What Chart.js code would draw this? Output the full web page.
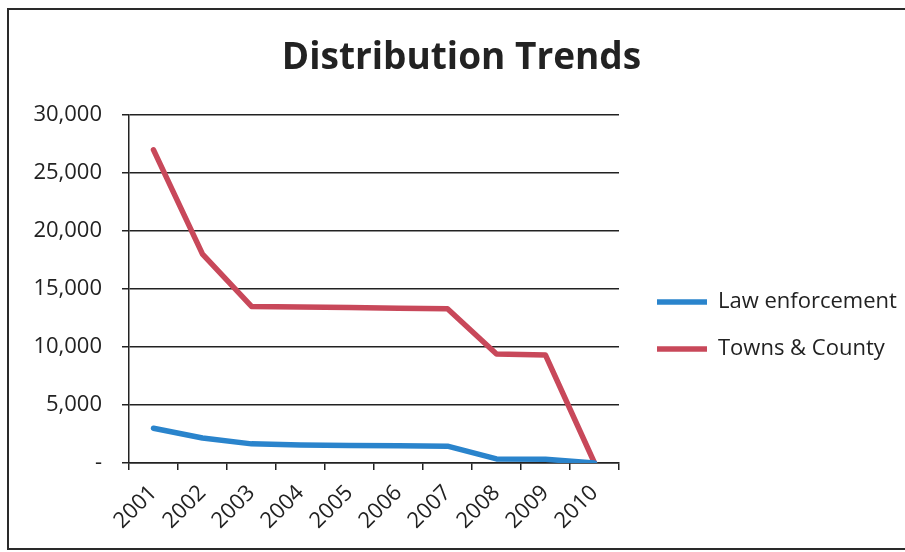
<!DOCTYPE html>
<html>
<head>
<meta charset="utf-8">
<script src="https://cdn.jsdelivr.net/npm/chart.js@4"></script>
<style>
  html, body { margin: 0; padding: 0; background: #fff; }
  #frame {
    position: absolute; left: 7px; top: 8px; width: 910px; height: 538px;
    border: 2px solid #2a2a2a; border-right: none;
  }
  #wrap { position: absolute; left: 0; top: 0; width: 905px; height: 552px; }
</style>
</head>
<body>
<div id="frame"></div>
<div id="wrap"><canvas id="trendChart" width="905" height="552"></canvas></div>
<script>
// Distribution Trends
const YEARS = ['2001', '2002', '2003', '2004', '2005', '2006', '2007', '2008', '2009', '2010'];
const LAW_ENFORCEMENT = [3000, 2150, 1650, 1550, 1500, 1480, 1450, 350, 320, 0];
const TOWNS_COUNTY   = [27000, 18000, 13500, 13450, 13400, 13350, 13300, 9400, 9300, 0];
const Y_TICKS = [0, 5000, 10000, 15000, 20000, 25000, 30000];

const FONT = "'Open Sans', 'Liberation Sans', sans-serif";
const BLUE = '#2a84cc';
const RED  = '#c8485a';

// legend sits to the right of the plot, a little lower than centred (like the Excel original)
const LEGEND_WIDTH = 286;
const LEGEND_SHIFT_X = 13;
const LEGEND_SHIFT_Y = 54.5;

const legendPlacement = {
  id: 'legendPlacement',
  beforeLayout(chart) {
    const lg = chart.legend;
    if (lg && !lg.__patched) {
      const fit = lg.fit;
      lg.fit = function () { fit.call(this); this.width = LEGEND_WIDTH; };
      lg.__patched = true;
    }
  },
  afterLayout(chart) {
    const lg = chart.legend;
    if (!lg) return;
    lg.left += LEGEND_SHIFT_X; lg.right += LEGEND_SHIFT_X;
    lg.top += LEGEND_SHIFT_Y; lg.bottom += LEGEND_SHIFT_Y;
  }
};

const ctx = document.getElementById('trendChart').getContext('2d');

new Chart(ctx, {
  type: 'line',
  data: {
    labels: YEARS,
    datasets: [
      {
        label: 'Law enforcement',
        data: LAW_ENFORCEMENT,
        borderColor: BLUE,
        backgroundColor: BLUE,
        borderWidth: 5.5,
        borderCapStyle: 'round',
        borderJoinStyle: 'round',
        pointRadius: 0,
        tension: 0
      },
      {
        label: 'Towns & County',
        data: TOWNS_COUNTY,
        borderColor: RED,
        backgroundColor: RED,
        borderWidth: 5.5,
        borderCapStyle: 'round',
        borderJoinStyle: 'round',
        pointRadius: 0,
        tension: 0
      }
    ]
  },
  plugins: [legendPlacement],
  options: {
    responsive: false,
    animation: false,
    layout: { padding: { left: 18, right: 0, top: 0, bottom: 10 } },
    plugins: {
      title: {
        display: true,
        text: 'Distribution Trends',
        color: '#222',
        font: { family: FONT, size: 37, weight: 'bold' },
        padding: { top: 36, bottom: 34.6 }
      },
      legend: {
        position: 'right',
        align: 'center',
        labels: {
          color: '#222',
          font: { family: FONT, size: 22 },
          usePointStyle: true,
          pointStyle: 'line',
          pointStyleWidth: 50,
          padding: 25
        }
      },
      tooltip: { enabled: false }
    },
    scales: {
      x: {
        offset: true,
        grid: { offset: true, drawOnChartArea: false, drawTicks: true, tickLength: 7, color: '#222', lineWidth: 1.5 },
        border: { display: true, color: '#222', width: 1.5 },
        ticks: {
          color: '#222',
          font: { family: FONT, size: 22 },
          maxRotation: 45,
          minRotation: 45,
          autoSkip: false,
          padding: 10
        },
        afterFit: (scale) => { scale.height = 79; }
      },
      y: {
        min: 0,
        max: 30000,
        grid: { color: '#222', lineWidth: 1.5, tickLength: 7 },
        border: { display: true, color: '#222', width: 1.5 },
        afterBuildTicks: (scale) => { scale.ticks = Y_TICKS.map(v => ({ value: v })); },
        ticks: {
          color: '#222',
          font: { family: FONT, size: 22 },
          padding: 20,
          callback: (v) => v === 0 ? '-' : v.toLocaleString('en-US')
        },
        afterFit: (scale) => { scale.width = 111; }
      }
    }
  }
});
</script>
</body>
</html>
